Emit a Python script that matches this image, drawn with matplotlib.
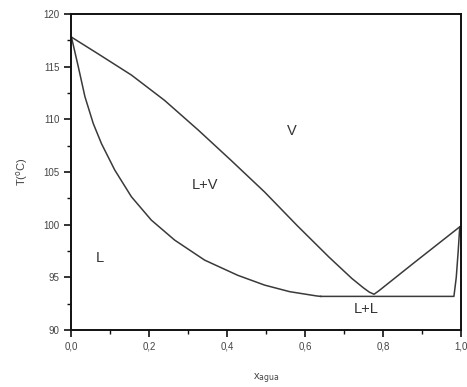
import numpy as np
import matplotlib
matplotlib.use("Agg")
import matplotlib.pyplot as plt
from matplotlib.ticker import MultipleLocator, FuncFormatter

plt.rcParams['font.family'] = ['Liberation Sans', 'DejaVu Sans']

# dew curve (vapour side)
dew_x = [0.0, 0.069, 0.154, 0.239, 0.325, 0.41, 0.496, 0.58, 0.662, 0.72,
         0.75, 0.765, 0.777, 0.79, 0.88, 0.997]
dew_T = [117.8, 116.2, 114.2, 111.8, 109.0, 106.1, 103.1, 99.9, 96.9, 94.9,
         94.0, 93.6, 93.4, 93.75, 96.4, 99.8]

# bubble curve (liquid side)
bub_x = [0.0, 0.0175, 0.0346, 0.056, 0.077, 0.111, 0.154, 0.205, 0.265, 0.342,
         0.427, 0.496, 0.56, 0.628, 0.64]
bub_T = [117.8, 115.0, 112.15, 109.6, 107.7, 105.2, 102.65, 100.44, 98.54, 96.64,
         95.2, 94.27, 93.65, 93.25, 93.2]

# liquid-liquid region
ll_x = [0.64, 0.982, 0.988, 0.993, 0.997]
ll_T = [93.2, 93.2, 95.0, 97.5, 99.8]

labels = ["V", "L+V", "L", "L+L"]
label_x = [0.567, 0.342, 0.073, 0.757]
label_T = [108.9, 103.8, 96.8, 92.0]

fig = plt.figure(figsize=(4.67, 3.87), dpi=100)
ax = fig.add_axes([0.153, 0.147, 0.834, 0.817])

col = '#3a3a3a'
ax.plot(dew_x, dew_T, color=col, lw=1.1)
ax.plot(bub_x, bub_T, color=col, lw=1.1)
ax.plot(ll_x, ll_T, color=col, lw=1.1)

for s, x, t in zip(labels, label_x, label_T):
    ax.text(x, t, s, fontsize=10.5, ha='center', va='center', color='#333333')

ax.set_xlim(0, 1.0)
ax.set_ylim(90, 120)
ax.xaxis.set_major_locator(MultipleLocator(0.2))
ax.xaxis.set_minor_locator(MultipleLocator(0.1))
ax.yaxis.set_major_locator(MultipleLocator(5))
ax.yaxis.set_minor_locator(MultipleLocator(2.5))
ax.xaxis.set_major_formatter(FuncFormatter(lambda v, p: f"{v:.1f}".replace('.', ',')))
ax.tick_params(which='major', direction='out', length=5, width=1.2, labelsize=7, color='#111111', labelcolor='#444444')
ax.tick_params(which='minor', direction='out', length=3, width=1.0, color='#111111')
ax.tick_params(top=False, right=False, which='both')
for sp in ax.spines.values():
    sp.set_linewidth(1.4)
    sp.set_color('#111111')

ax.set_xlabel(r"x$_{\rm agua}$", fontsize=8, color='#444444', labelpad=14)
ax.set_ylabel(r"T($^{\rm o}$C)", fontsize=8, color='#444444', labelpad=10)

fig.savefig("out.png", dpi=100)
